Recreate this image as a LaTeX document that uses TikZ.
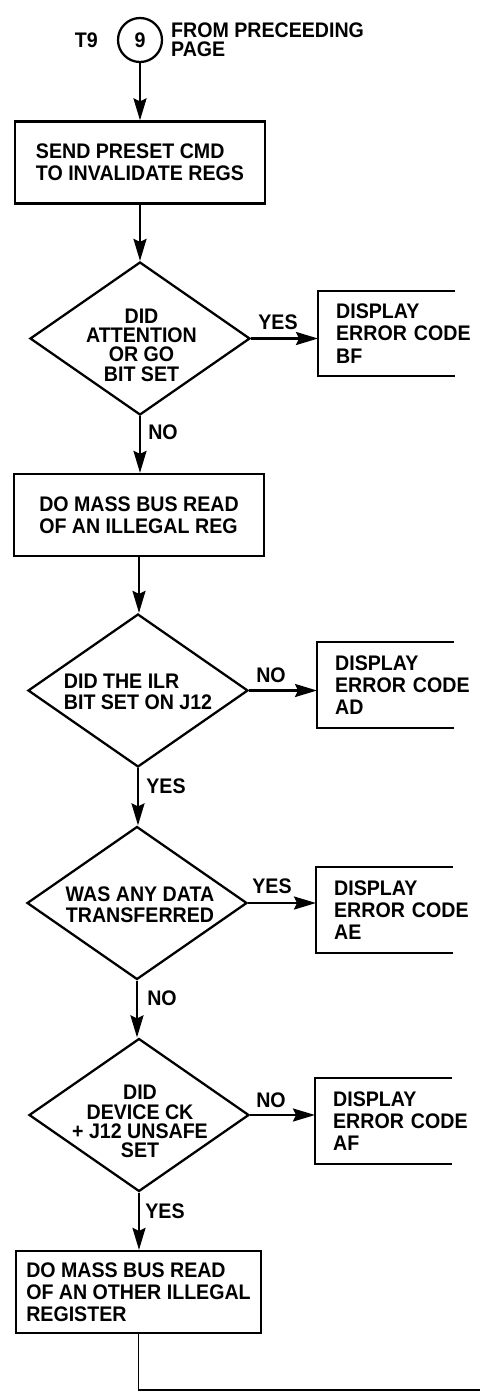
\documentclass[tikz,border=0pt]{standalone}
\usepackage{fontspec}
\setmainfont{Liberation Sans}[FakeStretch=0.93]
\usetikzlibrary{arrows.meta, calc, shapes.geometric}

\newcommand\chartfont{\fontsize{12}{12.6}\selectfont\bfseries}
\newcommand\dfont{\fontsize{12}{11}\selectfont\bfseries}

\tikzset{
  process/.style={draw, minimum width=5.0cm, minimum height=1.64cm, align=left, inner sep=0pt},
  decision/.style={draw, diamond, minimum width=4.4cm, minimum height=3.06cm, inner sep=0pt},
  dtext/.style={align=center, font=\dfont, inner sep=0pt},
  errbox/.style={anchor=west, minimum height=1.68cm, text width=2.9cm, align=left, inner xsep=0.34cm, inner ysep=0pt},
  lbl/.style={inner sep=0pt},
}

\begin{document}
\begin{tikzpicture}[>={Stealth[length=4.4mm, width=2.6mm, inset=0.6mm]}, line width=1.3pt, every node/.style={font=\chartfont}]
  \useasboundingbox (0,0) rectangle (9.6,-27.82);
  % entry from previous page
  \node[draw, circle, minimum size=0.88cm, inner sep=0pt] (c9) at (2.8,-0.8) {9};
  \node[anchor=east, inner sep=0pt] (t9) at (1.98,-0.8) {T9};
  \node[anchor=west, align=left, inner sep=0pt, font=\fontsize{12}{10.6}\selectfont\bfseries] (from) at (3.4,-0.8) {FROM PRECEEDING\\PAGE};
  % main column
  \node[process] (b1) at (2.8,-3.25) {SEND PRESET CMD\\TO INVALIDATE REGS};
  \node[decision] (d1) at (2.8,-6.77) {};
  \node[dtext] (d1t) at (2.83,-6.9) {DID\\ATTENTION\\OR GO\\BIT SET};
  \node[process] (b2) at (2.78,-10.3) {DO MASS BUS READ\\OF AN ILLEGAL REG};
  \node[decision] (d2) at (2.76,-13.81) {};
  \node[dtext, align=left, font=\fontsize{12}{12}\selectfont\bfseries] (d2t) at (2.76,-13.84) {DID THE ILR\\BIT SET ON J12};
  \node[decision] (d3) at (2.74,-18.06) {};
  \node[dtext, font=\fontsize{12}{12}\selectfont\bfseries] (d3t) at (2.8,-18.09) {WAS ANY DATA\\TRANSFERRED};
  \node[decision] (d4) at (2.78,-22.3) {};
  \node[dtext] (d4t) at (2.8,-22.43) {DID\\DEVICE CK\\+ J12 UNSAFE\\SET};
  \node[process, minimum width=4.9cm] (b3) at (2.77,-25.84) {DO MASS BUS READ\\OF AN OTHER ILLEGAL\\REGISTER};
  \coordinate (off) at (9.6,-27.8);
  % error displays
  \node[errbox, minimum height=1.66cm] (e1) at (6.36,-6.67) {DISPLAY\\ERROR CODE\\BF};
  \node[errbox] (e2) at (6.34,-13.7) {DISPLAY\\ERROR CODE\\AD};
  \node[errbox] (e3) at (6.32,-18.2) {DISPLAY\\ERROR CODE\\AE};
  \node[errbox] (e4) at (6.3,-22.42) {DISPLAY\\ERROR CODE\\AF};
  \foreach \e in {e1,e2,e3,e4}
    \draw (\e.north west) ++(2.74,0) -- (\e.north west) -- (\e.south west) -- ++(2.74,0);
  % branch labels
  \node[lbl] (y1) at (5.56,-6.44) {YES};
  \node[lbl] (n1) at (3.26,-8.64) {NO};
  \node[lbl] (n2) at (5.42,-13.5) {NO};
  \node[lbl] (y2) at (3.32,-15.72) {YES};
  \node[lbl] (y3) at (5.44,-17.72) {YES};
  \node[lbl] (n3) at (3.24,-19.96) {NO};
  \node[lbl] (n4) at (5.42,-22.0) {NO};
  \node[lbl] (y4) at (3.3,-24.22) {YES};
  % connectors
  \foreach \a/\b in {c9/b1, b1/d1, d1/b2, b2/d2, d2/d3, d3/d4, d4/b3}
    \draw[->] (\a.south) -- (\a.south |- \b.north);
  \foreach \d/\e in {d1/e1, d2/e2, d3/e3, d4/e4}
    \draw[->] (\d.east) -- (\d.east -| \e.west);
  \draw[line width=1pt] (b3.south) |- (off);
\end{tikzpicture}
\end{document}
